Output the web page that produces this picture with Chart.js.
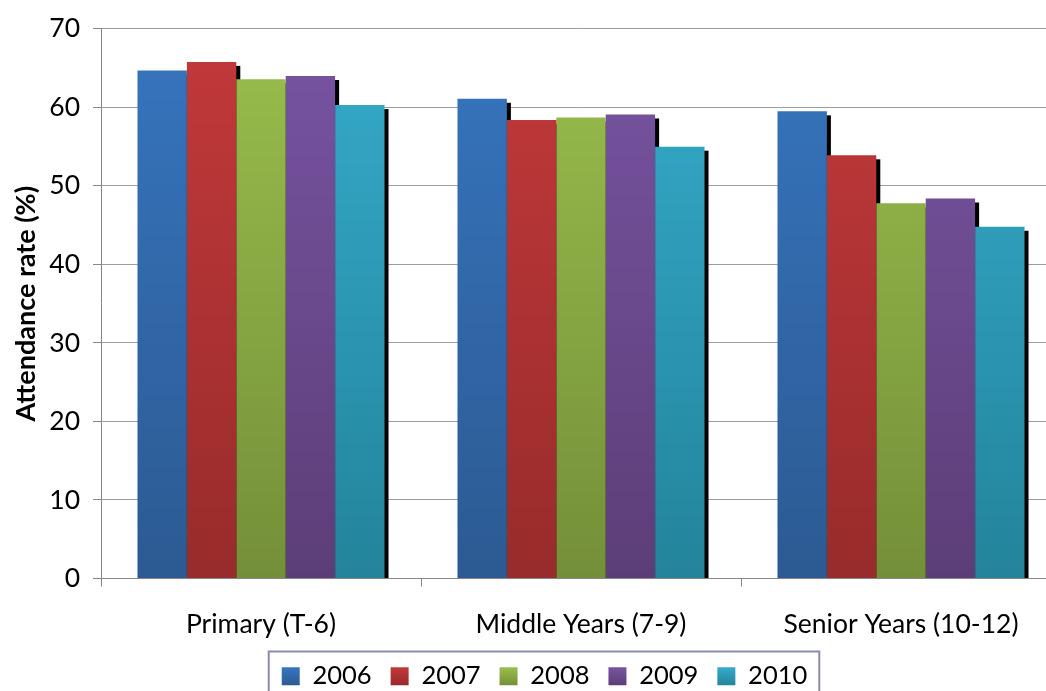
<!DOCTYPE html>
<html><head><meta charset="utf-8">
<script src="https://cdn.jsdelivr.net/npm/chart.js@4"></script>
<style>
html,body{margin:0;padding:0;background:#fff;overflow:hidden;width:1046px;height:691px;}
#wrap{position:absolute;left:0;top:0;width:1089px;height:699px;}
</style></head><body>
<div id="wrap"><canvas id="c" width="1089" height="699"></canvas></div>
<script>
const categories = ['Primary (T-6)', 'Middle Years (7-9)', 'Senior Years (10-12)'];
const seriesNames = ['2006', '2007', '2008', '2009', '2010'];
const values2006 = [64.7, 61.1, 59.5];
const values2007 = [65.8, 58.4, 53.9];
const values2008 = [63.6, 58.7, 47.8];
const values2009 = [64.0, 59.1, 48.4];
const values2010 = [60.3, 55.0, 44.8];
const yMin = 0, yMax = 70, yStep = 10;
const axisTitle = 'Attendance rate (%)';

const seriesValues = [values2006, values2007, values2008, values2009, values2010];
const gradStops = [
  ['#3675BE', '#2C5A92'],
  ['#C3393A', '#982B2B'],
  ['#99BE4C', '#748F39'],
  ['#7854A2', '#5C3E77'],
  ['#35ABCB', '#23849B']
];
const FONT = 'Lato, "Open Sans", sans-serif';

function barGradient(i) {
  return function (context) {
    const chart = context.chart;
    const area = chart.chartArea;
    if (!area) return gradStops[i][0];
    const g = chart.ctx.createLinearGradient(0, area.top, 0, area.bottom);
    g.addColorStop(0, gradStops[i][0]);
    g.addColorStop(1, gradStops[i][1]);
    return g;
  };
}

const shadowPlugin = {
  id: 'barShadow',
  beforeDatasetsDraw(chart) {
    const ctx = chart.ctx;
    ctx.save();
    ctx.fillStyle = '#000';
    chart.data.datasets.forEach((ds, i) => {
      const meta = chart.getDatasetMeta(i);
      meta.data.forEach(bar => {
        const p = bar.getProps(['x', 'y', 'base', 'width'], true);
        const left = p.x - p.width / 2 + 4, top = p.y + 4;
        ctx.fillRect(left, top, p.width, p.base - top);
      });
    });
    ctx.restore();
  }
};

const legendBoxPlugin = {
  id: 'legendBox',
  afterDraw(chart) {
    const hb = chart.legend && chart.legend.legendHitBoxes;
    if (!hb || !hb.length) return;
    const first = hb[0], last = hb[hb.length - 1];
    const ctx = chart.ctx;
    ctx.save();
    ctx.strokeStyle = '#8a8ab2';
    ctx.lineWidth = 2;
    const left = first.left - 13, right = last.left + last.width + 12;
    const top = first.top - 12;
    ctx.strokeRect(left, top, right - left, 80);
    ctx.restore();
  }
};

new Chart(document.getElementById('c'), {
  type: 'bar',
  data: {
    labels: categories,
    datasets: seriesNames.map((name, i) => ({
      label: name,
      data: seriesValues[i],
      backgroundColor: barGradient(i),
      borderWidth: 0,
      barPercentage: 1.0,
      categoryPercentage: 0.772
    }))
  },
  options: {
    responsive: false,
    animation: false,
    devicePixelRatio: 1,
    layout: { padding: { top: 27, left: 0, right: 0, bottom: 0 } },
    plugins: {
      tooltip: { enabled: false },
      legend: {
        position: 'bottom',
        labels: {
          font: { family: FONT, size: 25.5 },
          color: '#000',
          boxWidth: 18,
          boxHeight: 18,
          padding: 19,
          generateLabels(chart) {
            const items = Chart.defaults.plugins.legend.labels.generateLabels(chart);
            const ctx = chart.ctx;
            const top = chart.height - 55 + 20 + 3.5;
            items.forEach((it, i) => {
              const g = ctx.createLinearGradient(0, top, 0, top + 18);
              g.addColorStop(0, gradStops[i][0]);
              g.addColorStop(1, gradStops[i][1]);
              it.fillStyle = g;
              it.strokeStyle = 'rgba(0,0,0,0)';
              it.lineWidth = 0;
            });
            return items;
          }
        }
      }
    },
    scales: {
      x: {
        offset: true,
        grid: { drawOnChartArea: false, drawTicks: true, tickLength: 8, offset: true, color: '#878787' },
        border: { color: '#878787', width: 1 },
        ticks: { font: { family: FONT, size: 26.5 }, color: '#000', padding: 22, maxRotation: 0 },
        afterFit(s) { s.height = 66; }
      },
      y: {
        min: yMin, max: yMax,
        ticks: { stepSize: yStep, font: { family: FONT, size: 26.5 }, color: '#000', padding: 13 },
        grid: { color: '#9d9d9d', tickLength: 8, tickColor: '#878787' },
        border: { color: '#878787', width: 1 },
        title: { display: true, text: axisTitle, font: { family: FONT, size: 27, weight: 'bold' }, color: '#000', padding: { top: 10, bottom: 0 } },
        afterFit(s) { s.width = 101; }
      },
      y2: {
        position: 'right',
        display: true,
        grid: { display: false, drawTicks: false },
        border: { display: false },
        ticks: { display: false },
        afterFit(s) { s.width = 28; }
      }
    }
  },
  plugins: [shadowPlugin, legendBoxPlugin]
});
</script>
</body></html>
